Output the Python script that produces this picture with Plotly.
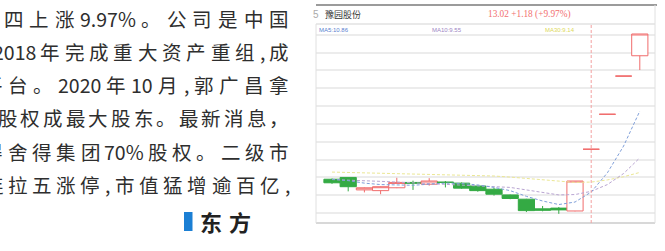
import plotly.graph_objects as go

W, H = 665, 251

# ---------------- data ----------------
days = list(range(20))
open_ = [8.95, 9.00, 8.65, 8.63, 8.71, 8.86, 8.81, 8.87, 8.84, 8.76,
         8.67, 8.51, 8.39, 8.12, 8.14, 8.06, 9.79, 10.77, 11.84, 12.41]
high = [8.97, 9.00, 8.72, 8.75, 8.99, 8.91, 8.98, 8.90, 8.86, 8.77,
        8.71, 8.52, 8.40, 8.20, 8.17, 8.90, 9.79, 10.77, 11.84, 13.02]
low = [8.82, 8.61, 8.58, 8.53, 8.70, 8.65, 8.77, 8.72, 8.68, 8.60,
       8.49, 8.39, 8.03, 8.05, 7.98, 8.05, 9.79, 10.77, 11.84, 12.01]
close = [8.85, 8.74, 8.71, 8.74, 8.86, 8.84, 8.90, 8.86, 8.70, 8.63,
         8.53, 8.41, 8.07, 8.08, 8.09, 8.90, 9.79, 10.77, 11.84, 13.02]
ma5 = [8.95, 8.91, 8.84, 8.80, 8.79, 8.78, 8.81, 8.84, 8.83, 8.79,
       8.72, 8.63, 8.47, 8.34, 8.24, 8.31, 8.59, 9.13, 9.88, 10.86]
ma10 = [8.94, 8.93, 8.91, 8.89, 8.87, 8.85, 8.83, 8.81, 8.80, 8.78,
        8.75, 8.72, 8.65, 8.59, 8.51, 8.52, 8.61, 8.80, 9.11, 9.55]
ma30 = [9.15, 9.14, 9.13, 9.12, 9.11, 9.10, 9.09, 9.08, 9.07, 9.06,
        9.04, 9.01, 8.97, 8.93, 8.89, 8.86, 8.87, 8.93, 9.02, 9.14]
crosshair_day = 16

stock_name = "豫园股份"
code_tail = "5"
price_text = "13.02 +1.18 (+9.97%)"
ma_labels = ["MA5:10.86", "MA10:9.55", "MA30:9.14"]

article_lines = [
    ["周", "四", "上", "涨", "9.97%", "。", "公", "司", "是", "中", "国"],
    ["2018", "年", "完", "成", "重", "大", "资", "产", "重", "组", ",", "成"],
    ["平", "台", "。", "2020", "年", "10", "月", ",", "郭", "广", "昌", "拿"],
    ["股", "权", "成", "最", "大", "股", "东", "。", "最", "新", "消", "息", "，"],
    ["得", "舍", "得", "集", "团", "70%", "股", "权", "。", "二", "级", "市"],
    ["连", "拉", "五", "涨", "停", ",", "市", "值", "猛", "增", "逾", "百", "亿", ","],
]
byline = ["东", "方"]

# ---------------- styles ----------------
RED = "#f06c6c"
GREEN = "#34aa44"
C_MA5, C_MA10, C_MA30 = "#7f9fd9", "#b9a5d2", "#ebe794"
TXT = "#2e2e2e"
CJK = "Noto Sans CJK SC"

def X(p):
    return p / W

def Y(p):
    return 1 - p / H

PX0, PX1 = 316, 655      # plot area pixel box
PY0, PY1 = 24, 223
C0, STEP = 332, 16.2     # first candle centre / spacing (px)

fig = go.Figure()
for ma, col in [(ma30, C_MA30), (ma10, C_MA10), (ma5, C_MA5)]:
    fig.add_trace(go.Scatter(x=days, y=ma, mode="lines", hoverinfo="skip",
                             line=dict(color=col, width=1, dash="3px,2px")))
fig.add_trace(go.Candlestick(
    x=days, open=open_, high=high, low=low, close=close,
    increasing=dict(line=dict(color=RED, width=1), fillcolor="white"),
    decreasing=dict(line=dict(color=GREEN, width=1), fillcolor=GREEN),
    whiskerwidth=0, hoverinfo="skip"))

fig.update_layout(
    width=W, height=H, margin=dict(l=0, r=0, t=0, b=0),
    paper_bgcolor="white", plot_bgcolor="white", showlegend=False,
    boxgap=0, boxgroupgap=0,
    xaxis=dict(domain=[X(PX0), X(PX1)],
               range=[(PX0 - C0) / STEP, (PX1 - C0) / STEP],
               showgrid=False, zeroline=False, showticklabels=False,
               ticks="", rangeslider=dict(visible=False), fixedrange=True),
    yaxis=dict(domain=[Y(PY1), Y(PY0)], range=[7.723, 13.30],
               tick0=0, dtick=0.5, showgrid=True, gridcolor="#ececec",
               gridwidth=2, zeroline=False, showticklabels=False, ticks="",
               fixedrange=True),
)

shapes = [
    dict(type="line", xref="paper", yref="paper", x0=X(316), x1=X(657),
         y0=Y(5), y1=Y(5), line=dict(color="#9b9b9b", width=2)),
    dict(type="line", xref="paper", yref="paper", x0=X(PX0), x1=X(PX1),
         y0=Y(PY0), y1=Y(PY0), line=dict(color="#e2e2e2", width=1.5)),
    dict(type="line", xref="paper", yref="paper", x0=X(PX0), x1=X(PX1),
         y0=Y(PY1), y1=Y(PY1), line=dict(color="#d8d8d8", width=2)),
    dict(type="line", xref="paper", yref="paper", x0=X(PX0), x1=X(PX0),
         y0=Y(PY0), y1=Y(PY1), line=dict(color="#e0e0e0", width=1)),
    dict(type="line", xref="paper", yref="paper", x0=X(PX1), x1=X(PX1),
         y0=Y(5), y1=Y(PY1), line=dict(color="#e0e0e0", width=1)),
    dict(type="line", xref="x", yref="paper", x0=crosshair_day, x1=crosshair_day,
         y0=Y(PY1), y1=Y(PY0), line=dict(color="#f3a0a0", width=1, dash="3px,2px")),
    dict(type="rect", xref="paper", yref="paper", x0=X(184), x1=X(192.5),
         y0=Y(231), y1=Y(212), fillcolor="#1b7fd4", line=dict(width=0)),
]
fig.update_layout(shapes=shapes)

ann = []
def add_text(text, x, y, size, color, family, xanchor="left", **kw):
    ann.append(dict(text=text, x=X(x), y=Y(y), xref="paper", yref="paper",
                    showarrow=False, xanchor=xanchor, yanchor="middle",
                    font=dict(size=size, color=color, family=family), **kw))

# chart header
add_text(code_tail, 321, 15, 10, "#aaaaaa", "Liberation Sans", xanchor="right")
add_text(stock_name, 323, 15, 9, "#333333", CJK)
add_text(price_text, 486, 14.5, 9.3, "#f26e6e", "Liberation Serif")
for lab, x, col in zip(ma_labels, [317, 430, 543], ["#5a7fcf", "#9c86c4", "#dcd85a"]):
    add_text(lab, x, 29.5, 6, col, "Liberation Sans")

# article text (justified lines, cut off at the left edge)
EM = 19.5
def tok_w(t):
    w = 0.0
    for ch in t:
        if ord(ch) > 0x2000:
            w += 1.0
        elif ch.isdigit():
            w += 0.55
        elif ch == "%":
            w += 0.87
        elif ch in ".,":
            w += 0.27
        else:
            w += 0.3
    return w * EM

line_geom = [  # (index of anchored token, its left px, right end px, centre y)
    (1, 4, 289, 18.3),
    (0, -7, 289, 51.4),
    (1, 8, 289, 84.6),
    (0, -2, 289, 117.8),
    (1, 8, 289, 151.0),
    (1, 8, 290, 184.2),
]
for toks, (k, s, e, yc) in zip(article_lines, line_geom):
    ws = [tok_w(t) for t in toks]
    tail = ws[k:]
    gap = (e - s - sum(tail)) / max(len(tail) - 1, 1)
    starts = [0.0] * len(toks)
    x = s
    for j in range(k, len(toks)):
        starts[j] = x
        x += ws[j] + gap
    for j in range(k - 1, -1, -1):
        starts[j] = starts[j + 1] - gap - ws[j]
    for t, st, w in zip(toks, starts, ws):
        add_text(t, st + w / 2, yc, EM, TXT, CJK, xanchor="center")

for t, xc in zip(byline, [211, 240]):
    add_text("<b>" + t + "</b>", xc, 221, 22, "#222222", CJK, xanchor="center")

fig.update_layout(annotations=ann)
fig.write_html("out.html",
               config={"displayModeBar": False, "staticPlot": True},
               post_script="document.body.style.margin='0';"
                           "document.body.style.overflow='hidden';")
